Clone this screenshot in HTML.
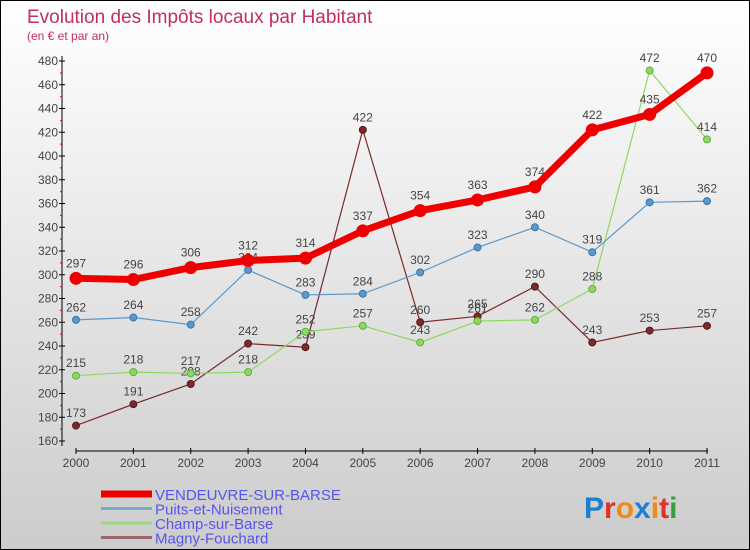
<!DOCTYPE html>
<html><head><meta charset="utf-8"><style>
body{margin:0;}
#wrap{width:748px;height:548px;border:1px solid #000;background:linear-gradient(#fff,#ccc);position:relative;overflow:hidden;font-family:"Liberation Sans",sans-serif;}
svg{position:absolute;left:0;top:0;}
</style></head><body>
<div id="wrap">
<svg id="chart" width="750" height="550">
<text x="26" y="22" font-size="19" fill="#c0305a">Evolution des Impôts locaux par Habitant</text>
<text x="26" y="39" font-size="12" fill="#c0305a">(en € et par an)</text>
<g id="axes"></g><g id="series"></g><g id="legend"></g>
<text x="583" y="517" font-size="30" font-weight="bold"><tspan fill="#1e7fd0">P</tspan><tspan fill="#e0302a">r</tspan><tspan fill="#f08a1a">o</tspan><tspan fill="#1e7fd0">x</tspan><tspan fill="#f08a1a">i</tspan><tspan fill="#e0302a">t</tspan><tspan fill="#30a040">i</tspan></text>
</svg></div>
<script>
const years=[2000,2001,2002,2003,2004,2005,2006,2007,2008,2009,2010,2011];
const yTicks=[160,180,200,220,240,260,280,300,320,340,360,380,400,420,440,460,480];
const vendeuvre=[297,296,306,312,314,337,354,363,374,422,435,470];
const puits=[262,264,258,304,283,284,302,323,340,319,361,362];
const champ=[215,218,217,218,252,257,243,261,262,288,472,414];
const magny=[173,191,208,242,239,422,260,265,290,243,253,257];
const NS="http://www.w3.org/2000/svg";
const X=i=>75+i*(706-75)/11;
const Y=v=>440-(v-160)*380/320;
function mk(t,a,p){const e=document.createElementNS(NS,t);for(const k in a)e.setAttribute(k,a[k]);p.appendChild(e);return e;}
const ax=document.getElementById('axes');
let l=mk('line',{x1:61,y1:55,x2:61,y2:445,stroke:'#000','stroke-width':1},ax);

l=mk('line',{x1:75,y1:450,x2:707,y2:450,stroke:'#000','stroke-width':1},ax);

yTicks.forEach(v=>{const y=Y(v);
 mk('line',{x1:58,y1:y,x2:64,y2:y,stroke:'#000'},ax);
 mk('line',{x1:59,y1:y+(v<480?-11.875:0),x2:61,y2:y+(v<480?-11.875:0),stroke:v<480?'#e00':'none'},ax);
 const t=mk('text',{x:57,y:y+4,'font-size':12,fill:'#444','text-anchor':'end'},ax);t.textContent=v;
 });
years.forEach((yr,i)=>{const x=X(i);
 mk('line',{x1:x,y1:447,x2:x,y2:453,stroke:'#000'},ax);
 const t=mk('text',{x:x,y:466,'font-size':12,fill:'#444','text-anchor':'middle'},ax);t.textContent=yr;
 });
const sg=document.getElementById('series');
function series(data,color,w,r,name,dark){
 const g=mk('g',{},sg);
 const pl=mk('polyline',{points:data.map((v,i)=>X(i)+','+Y(v)).join(' '),fill:'none',stroke:color,'stroke-width':w},g);
 
 data.forEach((v,i)=>{const c=mk('circle',{cx:X(i),cy:Y(v),r:r,fill:color,stroke:dark,'stroke-width':1},g);
  
  const t=mk('text',{x:X(i),y:Y(v)-r-5,'font-size':12,fill:'#444','text-anchor':'middle'},g);t.textContent=v;
  });
}
series(magny,'#7a2a2a',1.2,3.5,'magny-fouchard','#5a1a1a');
series(champ,'#8fd860',1.2,3.5,'champ-sur-barse','#60b040');
series(puits,'#5a98cc',1.2,3.5,'puits-et-nuisement','#3a78ac');
series(vendeuvre,'#ee0000',7,6,'vendeuvre-sur-barse','#ee0000');
const lg=document.getElementById('legend');
const items=[['VENDEUVRE-SUR-BARSE','#ee0000',7],['Puits-et-Nuisement','#7aa8cc',3],['Champ-sur-Barse','#99d880',3],['Magny-Fouchard','#9a6868',3]];
items.forEach((it,k)=>{const y=493+k*14.5;
 const g=mk('g',{},lg);
 mk('line',{x1:100,y1:y,x2:151,y2:y,stroke:it[1],'stroke-width':it[2]},g);
 const t=mk('text',{x:154,y:y+6,'font-size':15,fill:'#5555ee'},g);t.textContent=it[0];});
</script></body></html>
